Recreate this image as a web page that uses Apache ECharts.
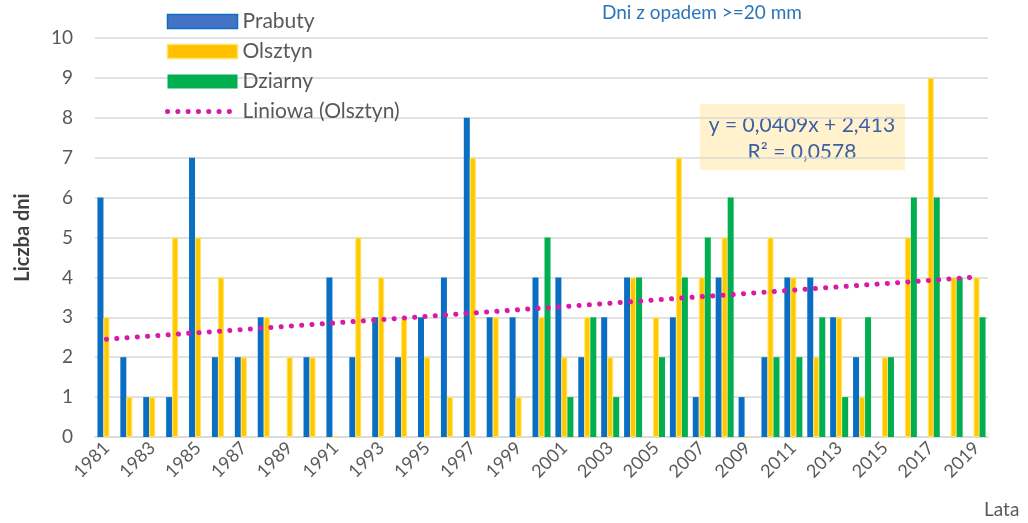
<!DOCTYPE html>
<html>
<head>
<meta charset="utf-8">
<script src="https://cdn.jsdelivr.net/npm/echarts@6/dist/echarts.min.js"></script>
<style>
html,body{margin:0;padding:0;background:#fff;}
#chart{width:1028px;height:523px;}
</style>
</head>
<body>
<div id="chart"></div>
<script>
var years = ['1981','1982','1983','1984','1985','1986','1987','1988','1989','1990',
	'1991','1992','1993','1994','1995','1996','1997','1998','1999','2000',
	'2001','2002','2003','2004','2005','2006','2007','2008','2009','2010',
	'2011','2012','2013','2014','2015','2016','2017','2018','2019'];
var prabuty = [6,2,1,1,7,2,2,3,null,2, 4,2,3,2,3,4,8,3,3,4, 4,2,3,4,null,3,1,4,1,2, 4,4,3,2,null,null,null,null,null];
var olsztyn = [3,1,1,5,5,4,2,3,2,2, 0,5,4,3,2,1,7,3,1,3, 2,3,2,4,3,7,4,5,0,5, 4,2,3,1,2,5,9,4,4];
var dziarny = [null,null,null,null,null,null,null,null,null,null, null,null,null,null,null,null,null,null,null,5,
	1,3,1,4,2,4,5,6,null,2, 2,3,1,3,2,6,6,4,3];
// trend line (Olsztyn) read at first and last year
var trendEnds = [2.45, 4.01];
var yTicks = [0,1,2,3,4,5,6,7,8,9,10];

var font = 'Lato, "Open Sans", sans-serif';
var grey = '#595959';
var pink = '#D91AA6';

var trend = [];
for(var i=0;i<years.length;i++){
	trend.push(null);
}
trend[0] = trendEnds[0];
trend[years.length-1] = trendEnds[1];

var chart = echarts.init(document.getElementById('chart'));
var option = {
	animation:false,
	textStyle:{fontFamily:font},
	title:{
		text:'Dni z opadem >=20 mm',
		left:597,
		top:-2,
		textStyle:{fontFamily:font,fontSize:19,fontWeight:'normal',color:'#2E75B6'}
	},
	legend:{
		orient:'vertical',
		left:160,
		top:6,
		itemWidth:70,
		itemHeight:14,
		itemGap:9,
		itemTextGap:4,
		textStyle:{fontFamily:font,fontSize:21,color:grey},
		data:[
			{name:'Prabuty',icon:'rect',itemStyle:{color:'#4472C4',borderColor:'#0A6FC2',borderWidth:1.5}},
			{name:'Olsztyn',icon:'rect',itemStyle:{color:'#FFC000',borderColor:'#FFE566',borderWidth:1.5}},
			{name:'Dziarny',icon:'rect'},
			{name:'Liniowa (Olsztyn)',itemStyle:{opacity:0},lineStyle:{color:pink,width:5,type:[0.1,10.2],cap:'round'}}
		]
	},
	grid:{left:95,right:40,top:38,bottom:86},
	xAxis:{
		type:'category',
		data:years,
		axisTick:{show:false},
		axisLine:{lineStyle:{color:'#D9D9D9',width:1.5}},
		axisLabel:{interval:1,rotate:45,fontSize:18,color:grey,margin:8,fontFamily:font}
	},
	yAxis:{
		type:'value',
		min:yTicks[0],
		max:yTicks[yTicks.length-1],
		interval:1,
		name:'Liczba dni',
		nameLocation:'middle',
		nameGap:62,
		nameRotate:90,
		nameTextStyle:{fontFamily:font,fontSize:20,fontWeight:'bold',color:'#404040'},
		axisLabel:{fontSize:19,color:grey,margin:22,fontFamily:font},
		splitLine:{lineStyle:{color:'#D9D9D9',width:1.5}}
	},
	series:[
		{
			name:'Prabuty',
			type:'bar',
			data:prabuty,
			barWidth:6,
			barGap:'0%',
			itemStyle:{color:'#0A6FC2'}
		},
		{
			name:'Olsztyn',
			type:'bar',
			data:olsztyn,
			barWidth:6,
			barGap:'0%',
			itemStyle:{color:'#FFC800',borderColor:'#FFE566',borderWidth:1}
		},
		{
			name:'Dziarny',
			type:'bar',
			data:dziarny,
			barWidth:6,
			barGap:'0%',
			itemStyle:{color:'#00B050'}
		},
		{
			name:'Liniowa (Olsztyn)',
			type:'line',
			data:trend,
			connectNulls:true,
			symbol:'none',
			z:5,
			itemStyle:{color:pink},
			lineStyle:{color:pink,width:5,type:[0.1,10.2],cap:'round'}
		}
	],
	graphic:[
		{
			type:'group',
			left:700,
			top:104,
			children:[
				{type:'rect',shape:{x:0,y:0,width:205,height:66},style:{fill:'#FFF2CC'}},
				{type:'text',x:102,y:21,style:{text:'y = 0,0409x + 2,413',fontFamily:font,fontSize:21,fill:'#3B5FA5',align:'center',verticalAlign:'middle'}},
				{type:'text',x:102,y:48,style:{text:'R² = 0,0578',fontFamily:font,fontSize:21,fill:'#3B5FA5',align:'center',verticalAlign:'middle'}}
			]
		},
		{
			type:'text',
			left:984,
			top:500,
			style:{text:'Lata',fontFamily:font,fontSize:19,fill:grey}
		}
	]
};
chart.setOption(option);
</script>
</body>
</html>
